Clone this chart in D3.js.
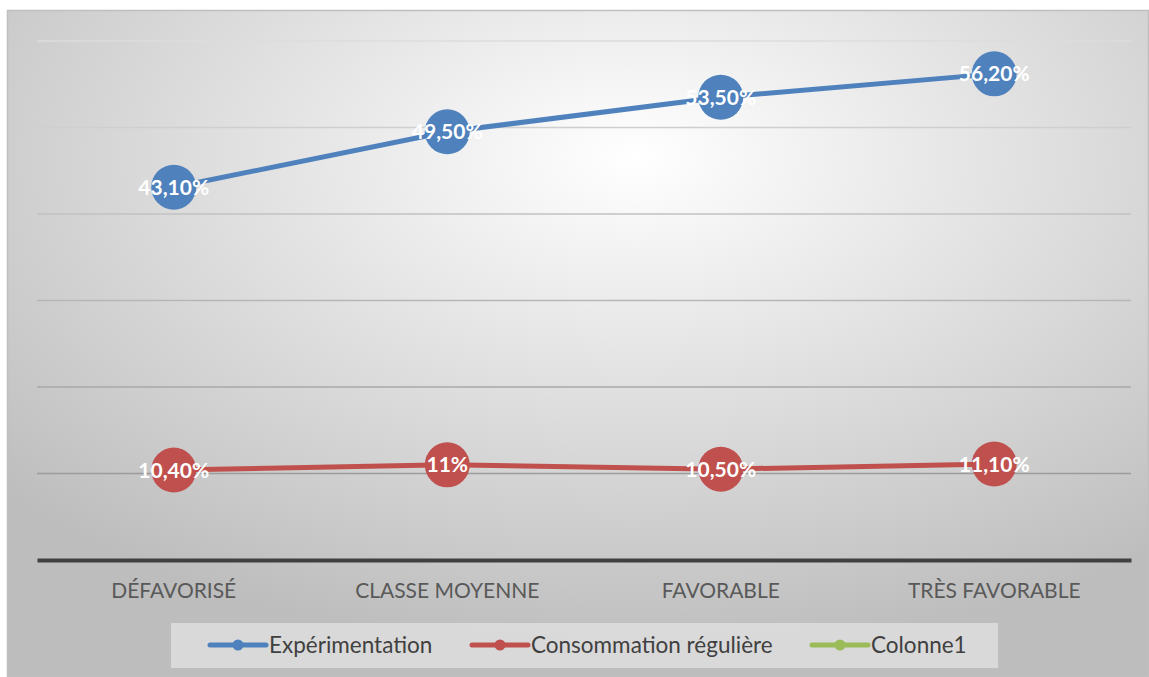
<!DOCTYPE html>
<html>
<head>
<meta charset="utf-8">
<script src="https://cdn.jsdelivr.net/npm/d3@7"></script>
<style>
  body { margin: 0; background: #fff; }
  text { font-family: Lato, "Liberation Sans", sans-serif; }
</style>
</head>
<body>
<div id="content"></div>
<script>
var width = 1149;
var height = 677;

// data
var categories = ["DÉFAVORISÉ", "CLASSE MOYENNE", "FAVORABLE", "TRÈS FAVORABLE"];
var experimentation = [43.1, 49.5, 53.5, 56.2];
var experimentationLabels = ["43,10%", "49,50%", "53,50%", "56,20%"];
var reguliere = [10.4, 11, 10.5, 11.1];
var reguliereLabels = ["10,40%", "11%", "10,50%", "11,10%"];
var seriesNames = ["Expérimentation", "Consommation régulière", "Colonne1"];
var yTicks = [10, 20, 30, 40, 50, 60];

var colors = ["#4f81bd", "#c0504d", "#9bbb59"];

var svg = d3.select("#content").append("svg")
    .attr("width", width)
    .attr("height", height);

var defs = svg.append("defs");
var bg = defs.append("radialGradient")
    .attr("id", "bg")
    .attr("cx", "55%").attr("cy", "22%").attr("r", "75%");
bg.append("stop").attr("offset", "0%").attr("stop-color", "#ffffff");
bg.append("stop").attr("offset", "100%").attr("stop-color", "#bdbdbd");

// chart frame
svg.append("rect")
    .attr("x", 7.5).attr("y", 10.5)
    .attr("width", 1141).attr("height", 666)
    .attr("fill", "url(#bg)")
    .attr("stroke", "#bfbfbf")
    .attr("stroke-width", 1.5);

var x = d3.scaleBand()
    .domain(categories)
    .range([37, 1131]);

var y = d3.scaleLinear()
    .domain([0, 60])
    .range([560, 41]);

var gridColor = d3.scaleLinear()
    .domain([60, 10])
    .range(["#dcdcdc", "#9c9c9c"]);

svg.append("g").selectAll("line")
    .data(yTicks)
    .enter()
    .append("line")
    .attr("x1", 37).attr("x2", 1131)
    .attr("y1", d => y(d)).attr("y2", d => y(d))
    .attr("stroke", d => gridColor(d))
    .attr("stroke-width", 1.5);

// base axis
var xAxis = svg.append("g")
    .attr("transform", `translate(0, ${y(0)})`)
    .call(d3.axisBottom(x).tickSize(0).tickPadding(23));
xAxis.select(".domain")
    .attr("stroke", "#404040")
    .attr("stroke-width", 4);
xAxis.selectAll("text")
    .attr("fill", "#595959")
    .style("font-size", "21px")
    .style("font-family", "Lato, 'Liberation Sans', sans-serif");

var cx = d => x(d) + x.bandwidth() / 2;

var line = d3.line()
    .x((d, i) => cx(categories[i]))
    .y(d => y(d));

function drawSeries(values, labels, color) {
    var g = svg.append("g");
    g.append("path")
        .datum(values)
        .attr("d", line)
        .attr("fill", "none")
        .attr("stroke", color)
        .attr("stroke-width", 5)
        .attr("stroke-linecap", "round");
    g.selectAll("circle")
        .data(values)
        .enter()
        .append("circle")
        .attr("cx", (d, i) => cx(categories[i]))
        .attr("cy", d => y(d))
        .attr("r", 22.5)
        .attr("fill", color);
    g.selectAll("text")
        .data(values)
        .enter()
        .append("text")
        .attr("x", (d, i) => cx(categories[i]))
        .attr("y", d => y(d))
        .attr("dy", "0.36em")
        .attr("text-anchor", "middle")
        .attr("fill", "#fff")
        .style("font-size", "21px")
        .style("font-weight", "bold")
        .text((d, i) => labels[i]);
}

drawSeries(experimentation, experimentationLabels, colors[0]);
drawSeries(reguliere, reguliereLabels, colors[1]);

// legend
svg.append("rect")
    .attr("x", 171).attr("y", 623)
    .attr("width", 827).attr("height", 45)
    .attr("fill", "#e0e0e0")
    .attr("fill-opacity", 0.8);

var legendX = [210, 472, 812];
var legend = svg.append("g").selectAll("g")
    .data(seriesNames)
    .enter()
    .append("g")
    .attr("transform", (d, i) => `translate(${legendX[i]}, 645)`);

legend.append("line")
    .attr("x1", 0).attr("x2", 56)
    .attr("stroke", (d, i) => colors[i])
    .attr("stroke-width", 5)
    .attr("stroke-linecap", "round");
legend.append("circle")
    .attr("cx", 28)
    .attr("r", 5.5)
    .attr("fill", (d, i) => colors[i]);
legend.append("text")
    .attr("x", 59)
    .attr("dy", "0.36em")
    .attr("fill", "#404040")
    .style("font-size", "22.5px")
    .text(d => d);
</script>
</body>
</html>
